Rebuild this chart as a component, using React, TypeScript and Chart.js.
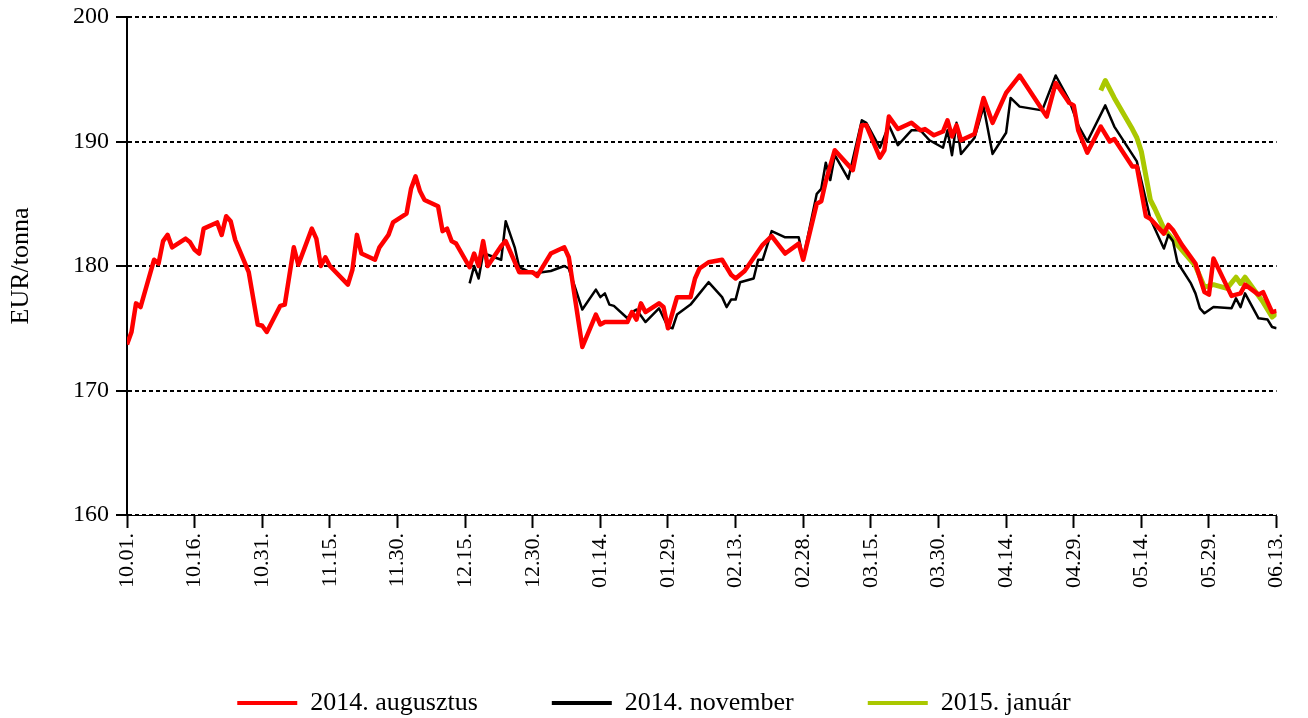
import { useEffect, useRef } from "react";
import { Chart, registerables } from "chart.js";

Chart.register(...registerables);

// x tick labels: one every 15 days starting 10.01.
const xTickLabels = [
  "10.01.", "10.16.", "10.31.", "11.15.", "11.30.", "12.15.", "12.30.", "01.14.", "01.29.",
  "02.13.", "02.28.", "03.15.", "03.30.", "04.14.", "04.29.", "05.14.", "05.29.", "06.13.",
];
const yTicks = [160, 170, 180, 190, 200];

const seriesNames = ["2014. augusztus", "2014. november", "2015. január"];

// Day index since 10.01.
const augDays = [
  0, 1, 2, 3, 6, 7, 8, 9, 10, 13, 14, 15, 16, 17, 20, 21, 22, 23, 24, 27, 29, 30, 31, 34, 35, 37, 38,
  41, 42, 43, 44, 45, 49, 50, 51, 52, 55, 56, 58, 59, 62, 63, 64, 65, 66, 69, 70, 71, 72, 73, 76, 77,
  78, 79, 80, 83, 84, 87, 90, 91, 94, 97, 98, 101, 104, 105, 106, 111, 112, 113, 114, 115, 118, 119,
  120, 122, 125, 126, 127, 129, 132, 134, 135, 137, 141, 143, 146, 149, 150, 153, 154, 155, 157, 161,
  163, 164, 167, 168, 169, 171, 174, 176, 177, 179, 181, 182, 183, 184, 185, 188, 190, 192, 195, 198,
  204, 206, 209, 210, 211, 213, 216, 218, 219, 223, 224, 226, 227, 230, 231, 232, 234, 237, 239, 240,
  241, 245, 247, 248, 251, 252, 254, 255,
];
const augValues = [
  173.7, 174.7, 177.0, 176.7, 180.5, 180.2, 182.0, 182.5, 181.5, 182.2, 181.9, 181.3, 181.0, 183.0,
  183.5, 182.5, 184.0, 183.6, 182.1, 179.5, 175.3, 175.2, 174.7, 176.8, 176.9, 181.5, 180.1,
  183.0, 182.2, 180.0, 180.7, 180.0, 178.5, 179.7, 182.5, 181.0, 180.5, 181.5, 182.5, 183.5, 184.2,
  186.2, 187.2, 186.0, 185.3, 184.8, 182.8, 183.0, 182.0, 181.8, 179.9, 181.0,
  180.0, 182.0, 180.0, 181.6, 182.0, 179.5, 179.5, 179.2, 181.0, 181.5, 180.7, 173.5, 176.1, 175.3,
  175.5, 175.5, 176.3, 175.7, 177.0, 176.3, 177.0, 176.7,
  175.0, 177.5, 177.5, 179.0, 179.8, 180.3, 180.5, 179.3, 179.0, 179.6, 181.7, 182.4, 181.0, 181.8,
  180.5, 185.0, 185.2, 186.8, 189.3, 187.7,
  191.3, 191.3, 188.7, 189.3, 192.0, 191.0, 191.5, 190.9, 191.0, 190.5, 190.8, 191.7, 190.4, 191.3,
  190.1, 190.6, 193.5, 191.5, 193.9, 195.3,
  192.0, 194.7, 193.1, 192.9, 190.9, 189.1, 191.2, 190.0, 190.2, 188.0, 188.0, 184.0, 183.8, 182.6,
  183.3, 182.9, 181.7, 180.2, 177.9, 177.7,
  180.6, 177.6, 177.8, 178.5, 177.7, 177.9, 176.3, 176.4,
];

const novDays = [
  76, 77, 78, 79, 80, 83, 84, 86, 87, 90, 92, 94, 97, 98, 101, 104, 105, 106, 107, 108, 111, 112, 113,
  115, 118, 120, 121, 122, 125, 127, 129, 132, 133, 134, 135, 136, 139, 140, 141, 143, 146, 149, 150,
  153, 154, 155, 156, 157, 160, 163, 164, 167, 169, 171, 174, 176, 178, 181, 182, 183, 184, 185, 188,
  190, 192, 195, 196, 198, 203, 206, 209, 211, 213, 217, 219, 224, 227, 230, 231, 232, 233, 236, 237,
  238, 239, 241, 245, 246, 247, 248, 251, 253, 254, 255,
];
const novValues = [
  178.6, 180.0, 179.0, 181.0, 180.9, 180.5, 183.6, 181.5, 179.9, 179.4, 179.5, 179.6, 180.0, 179.8,
  176.5, 178.1, 177.5, 177.8, 176.9, 176.8, 175.8, 176.3, 176.5,
  175.5, 176.6, 175.1, 175.0, 176.1, 176.9, 177.8, 178.7, 177.5, 176.7, 177.3, 177.3, 178.7, 179.0,
  180.5, 180.5, 182.8, 182.3, 182.3, 180.6,
  185.8, 186.2, 188.3, 186.9, 188.9, 187.0, 191.7, 191.5, 189.5, 191.3, 189.7, 190.9, 190.9, 190.1,
  189.5, 190.9, 188.9, 191.5, 189.0, 190.3,
  192.8, 189.0, 190.7, 193.5, 192.8, 192.5, 195.3, 193.3, 191.3, 190.0, 192.9, 191.2, 188.4, 183.8,
  181.4, 182.5, 182.0, 180.3, 178.6, 177.8,
  176.6, 176.2, 176.7, 176.6, 177.4, 176.7, 177.8, 175.8, 175.7, 175.1, 175.0,
];

const janDays = [216, 217, 219, 223, 224, 225, 227, 228, 230, 233, 237, 239, 241, 244, 246, 247, 248, 252, 254, 255];
const janValues = [
  194.1, 194.9, 193.5, 191.0, 190.3, 189.2, 185.3, 184.6, 183.0, 181.7, 180.0, 178.3, 178.5, 178.2,
  179.1, 178.6, 179.1, 177.1, 175.9, 176.2,
];

const seriesColors = ["#ff0000", "#000000", "#aac800"];
const seriesWidths = [4.5, 2.5, 5];

const FONT = "'Liberation Serif', 'Times New Roman', serif";

function toPoints(days: number[], values: number[]) {
  return days.map((d, i) => ({ x: d, y: values[i] }));
}

export default function App() {
  const canvasRef = useRef<HTMLCanvasElement | null>(null);

  useEffect(() => {
    const canvas = canvasRef.current;
    if (!canvas) return;
    const seriesData = [
      toPoints(augDays, augValues),
      toPoints(novDays, novValues),
      toPoints(janDays, janValues),
    ];
    const chart = new Chart(canvas, {
      type: "line",
      data: {
        datasets: seriesNames.map((name, i) => ({
          label: name,
          data: seriesData[i],
          borderColor: seriesColors[i],
          backgroundColor: seriesColors[i],
          borderWidth: seriesWidths[i],
          pointRadius: 0,
          pointHoverRadius: 0,
          tension: 0,
          fill: false,
          borderJoinStyle: "round",
          yAxisID: "y",
        })),
      },
      options: {
        animation: false,
        responsive: false,
        maintainAspectRatio: false,
        layout: { padding: { top: 17, right: 0, bottom: 0, left: 0 } },
        plugins: {
          tooltip: { enabled: false },
          legend: {
            position: "bottom",
            maxHeight: 102,
            labels: {
              font: { family: FONT, size: 26 },
              color: "#000000",
              boxWidth: 60,
              boxHeight: 4,
              padding: 74,
              generateLabels: (ch: any) =>
                Chart.defaults.plugins.legend.labels.generateLabels(ch).map((it: any) => ({
                  ...it,
                  fillStyle: it.strokeStyle,
                  lineWidth: 0,
                })),
            },
          },
        },
        scales: {
          x: {
            type: "linear",
            min: 0,
            max: 255,
            afterBuildTicks: (scale: any) => {
              scale.ticks = xTickLabels.map((_, i) => ({ value: i * 15 }));
            },
            afterFit: (scale: any) => {
              scale.height = 101;
            },
            ticks: {
              autoSkip: false,
              minRotation: 90,
              maxRotation: 90,
              padding: 5,
              color: "#000000",
              font: { family: FONT, size: 22 },
              callback: (value: any) => xTickLabels[Math.round(Number(value) / 15)] ?? "",
            },
            grid: {
              display: true,
              drawOnChartArea: false,
              drawTicks: true,
              tickLength: 13,
              tickWidth: 2,
              tickColor: "#000000",
              color: "#000000",
            },
            border: { display: true, color: "#000000", width: 1 },
          },
          y: {
            type: "linear",
            position: "left",
            min: 160,
            max: 200,
            afterBuildTicks: (scale: any) => {
              scale.ticks = yTicks.map((v) => ({ value: v }));
            },
            afterFit: (scale: any) => {
              scale.width = 127;
            },
            title: {
              display: true,
              text: "EUR/tonna",
              color: "#000000",
              font: { family: FONT, size: 26 },
              padding: { top: 6, bottom: 0 },
            },
            ticks: {
              padding: 7,
              color: "#000000",
              font: { family: FONT, size: 24, lineHeight: 0.7 },
            },
            grid: {
              display: true,
              drawOnChartArea: true,
              drawTicks: true,
              tickLength: 11,
              tickWidth: 2,
              tickColor: "#000000",
              color: "#000000",
              lineWidth: 2,
            },
            border: { display: true, color: "#000000", width: 2, dash: [4, 3] },
          },
          // empty right-hand margin column (no ticks, no line)
          yRight: {
            type: "linear",
            position: "right",
            display: true,
            min: 160,
            max: 200,
            afterFit: (scale: any) => {
              scale.width = 29;
            },
            ticks: { display: false },
            grid: { display: false, drawTicks: false },
            border: { display: false },
          },
        },
      },
    });
    return () => chart.destroy();
  }, []);

  return (
    <div style={{ position: "absolute", left: 0, top: 0, width: 1308, height: 718, background: "#ffffff" }}>
      <canvas ref={canvasRef} width={1308} height={718} style={{ width: 1308, height: 718, display: "block" }} />
    </div>
  );
}
